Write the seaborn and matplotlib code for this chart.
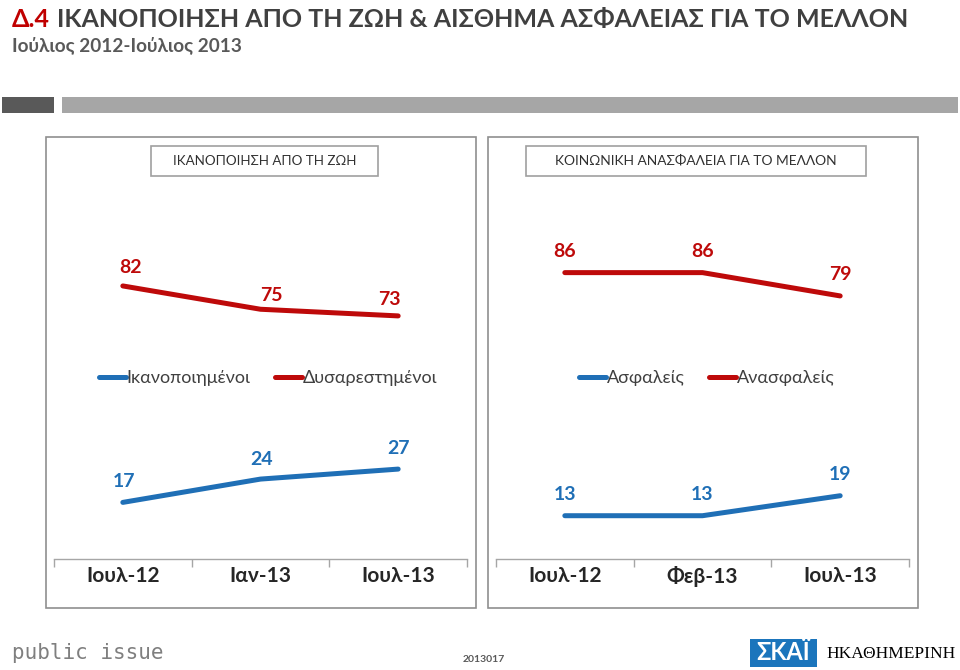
import matplotlib
matplotlib.use('Agg')
import matplotlib.pyplot as plt
import seaborn as sns
import pandas as pd
from matplotlib.patches import Rectangle

# ---------------- data ----------------
periods_left = ['Ιουλ-12', 'Ιαν-13', 'Ιουλ-13']
satisfied = [17, 24, 27]
dissatisfied = [82, 75, 73]
left_series = ['Ικανοποιημένοι', 'Δυσαρεστημένοι']

periods_right = ['Ιουλ-12', 'Φεβ-13', 'Ιουλ-13']
secure = [13, 13, 19]
insecure = [86, 86, 79]
right_series = ['Ασφαλείς', 'Ανασφαλείς']

panel_titles = ['ΙΚΑΝΟΠΟΙΗΣΗ ΑΠΟ ΤΗ ΖΩΗ', 'ΚΟΙΝΩΝΙΚΗ ΑΝΑΣΦΑΛΕΙΑ ΓΙΑ ΤΟ ΜΕΛΛΟΝ']
title_code = 'Δ.4'
title_text = 'ΙΚΑΝΟΠΟΙΗΣΗ ΑΠΟ ΤΗ ΖΩΗ & ΑΙΣΘΗΜΑ ΑΣΦΑΛΕΙΑΣ ΓΙΑ ΤΟ ΜΕΛΛΟΝ'
subtitle = 'Ιούλιος 2012-Ιούλιος 2013'
footer_left = 'public issue'
footer_code = '2013017'
logo_1 = 'ΣΚΑΪ'
logo_2 = 'ΗΚΑΘΗΜΕΡΙΝΗ'

# ---------------- style ----------------
sns.set_theme(style='white')
BODY = ['Lato', 'DejaVu Sans']
plt.rcParams['font.family'] = BODY

BLUE = '#1F6FB6'
RED = '#BE0A0A'
DARK = '#404040'

W, H = 960, 670
fig = plt.figure(figsize=(W / 100, H / 100), dpi=100)
renderer = fig.canvas.get_renderer()


def fx(px):
    return px / W


def fy(py):
    return 1 - py / H


def width_px(t):
    return t.get_window_extent(renderer).width


def fit(t, target):
    t.set_fontsize(t.get_fontsize() * target / width_px(t))


# header bars
fig.patches.append(Rectangle((fx(2), fy(113)), fx(54) - fx(2), (113 - 97) / H,
                             transform=fig.transFigure, facecolor='#595959', edgecolor='none'))
fig.patches.append(Rectangle((fx(62), fy(113)), fx(958) - fx(62), (113 - 97) / H,
                             transform=fig.transFigure, facecolor='#A6A6A6', edgecolor='none'))

# title (fit to the reference width 12..905 px)
t1 = fig.text(fx(12), fy(27), title_code, color='#C00000', fontsize=20, fontweight='bold',
              va='baseline', ha='left')
t2 = fig.text(fx(60), fy(27), title_text, color=DARK, fontsize=20, fontweight='bold',
              va='baseline', ha='left')
gap = 7
total = width_px(t1) + gap + width_px(t2)
scale = (905 - 12 - gap) / (total - gap)
t1.set_fontsize(20 * scale)
t2.set_fontsize(20 * scale)
t2.set_x(fx(12 + width_px(t1) + gap))

st = fig.text(fx(12), fy(51), subtitle, color='#595959', fontsize=13, fontweight='bold',
              va='baseline', ha='left')
fit(st, 230)

# panel frames
for x0, x1 in [(46, 476), (488, 918)]:
    fig.patches.append(Rectangle((fx(x0), fy(608)), fx(x1) - fx(x0), (608 - 137) / H,
                                 transform=fig.transFigure, facecolor='none',
                                 edgecolor='#8F8F8F', linewidth=1.2))

# panel title boxes
for (x0, x1), txt, tw in zip([(151, 378), (526, 866)], panel_titles, [185, 283]):
    fig.patches.append(Rectangle((fx(x0), fy(176)), fx(x1) - fx(x0), (176 - 146) / H,
                                 transform=fig.transFigure, facecolor='white',
                                 edgecolor='#A0A0A0', linewidth=1.2))
    pt = fig.text(fx((x0 + x1) / 2), fy(161), txt, color='#303030', fontsize=10.5,
                  ha='center', va='center')
    fit(pt, tw)

AX_BOTTOM = 559
AX_TOP = 226


def panel(rect_px, periods, low, high, names, label_offsets, legend_x):
    x0, x1 = rect_px
    ax = fig.add_axes([fx(x0), fy(AX_BOTTOM), (x1 - x0) / W, (AX_BOTTOM - AX_TOP) / H])
    ax.set_facecolor('none')
    df = pd.DataFrame({
        'period': periods * 2,
        'value': low + high,
        'series': [names[0]] * len(periods) + [names[1]] * len(periods),
    })
    sns.lineplot(data=df, x='period', y='value', hue='series', hue_order=names,
                 palette=[BLUE, RED], linewidth=3.6, sort=False, ax=ax)
    for ln in ax.lines:
        ln.set_solid_capstyle('round')
        ln.set_solid_joinstyle('round')
    ax.set_xlim(-0.5, len(periods) - 0.5)
    ax.set_ylim(0, 100)
    ax.set_xlabel('')
    ax.set_ylabel('')
    ax.set_yticks([])
    for s in ['left', 'right', 'top']:
        ax.spines[s].set_visible(False)
    ax.spines['bottom'].set_color('#A6A6A6')
    ax.spines['bottom'].set_linewidth(1.0)
    ax.set_xticks(range(len(periods)))
    ax.set_xticklabels(periods, fontsize=15, fontweight='bold', color='#262626')
    ax.tick_params(axis='x', which='major', length=0, pad=5)
    ax.set_xticks([i - 0.5 for i in range(len(periods) + 1)], minor=True)
    ax.tick_params(axis='x', which='minor', length=6, width=1.0, color='#A6A6A6',
                   direction='out', bottom=True)

    # data labels
    for vals, color, offs in [(low, BLUE, label_offsets[0]), (high, RED, label_offsets[1])]:
        for i, v in enumerate(vals):
            dx, dy = offs[i]
            ax.annotate(str(v), (i, v), xytext=(dx, dy), textcoords='offset pixels',
                        ha='center', va='center', color=color, fontsize=14,
                        fontweight='bold')

    sns.move_legend(ax, 'center', bbox_to_anchor=(legend_x, (AX_BOTTOM - 378) / (AX_BOTTOM - AX_TOP)),
                    ncol=2, frameon=False, title=None, handlelength=1.5,
                    handletextpad=0.05, columnspacing=1.35, fontsize=13)
    leg = ax.get_legend()
    for t in leg.get_texts():
        t.set_color(DARK)
    for ln in leg.get_lines():
        ln.set_linewidth(3.6)
        ln.set_solid_capstyle('round')
    return ax


panel((54, 467), periods_left, satisfied, dissatisfied, left_series,
      [[(1, 21), (1, 20), (0, 21)], [(8, 18), (11, 14), (-9, 16)]], 0.518)
panel((496, 909), periods_right, secure, insecure, right_series,
      [[(0, 21), (0, 21), (0, 21)], [(0, 21), (0, 21), (0, 21)]], 0.51)

# footer
fig.text(fx(12), fy(659), footer_left, color='#7F7F7F', fontsize=15,
         family=['DejaVu Sans Mono'], va='baseline', ha='left')
fig.text(fx(484), fy(662), footer_code, color='#595959', fontsize=7.5,
         fontweight='bold', ha='center', va='baseline')
fig.patches.append(Rectangle((fx(750), fy(667)), fx(817) - fx(750), (667 - 639) / H,
                             transform=fig.transFigure, facecolor='#1B75BC', edgecolor='none'))
lg1 = fig.text(fx(783.5), fy(653), logo_1, color='white', fontsize=16, fontweight='bold',
               ha='center', va='center')
fit(lg1, 54)
lg2 = fig.text(fx(891), fy(654), logo_2, color='black', fontsize=13,
               family=['Liberation Serif', 'DejaVu Serif'], ha='center', va='center')
fit(lg2, 128)

fig.savefig('out.png', dpi=100, facecolor='white')
